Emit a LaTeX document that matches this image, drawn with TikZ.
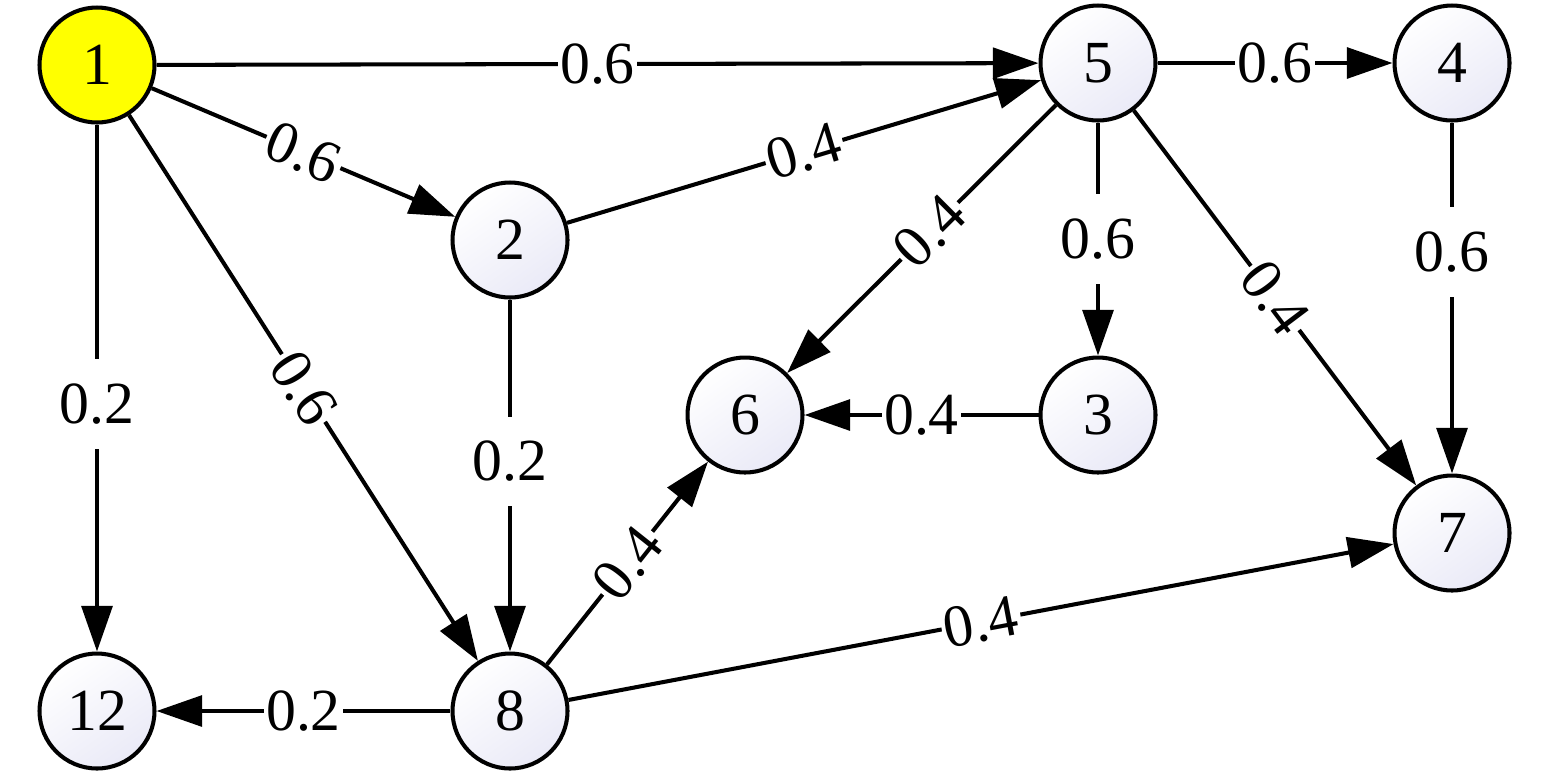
\documentclass[tikz,border=0pt]{standalone}
\usepackage{fontspec}
\setmainfont{Liberation Serif}
\usetikzlibrary{arrows.meta}
\definecolor{nodelav}{RGB}{234,234,247}
\definecolor{nodeyel}{RGB}{255,255,0}
\tikzset{
  gnode/.style={circle, draw=black, line width=2.3pt, minimum size=2.3cm, inner sep=0pt,
    top color=white, bottom color=nodelav, shading angle=35,
    font=\fontsize{34}{40}\selectfont},
  startnode/.style={gnode, fill=nodeyel, top color=nodeyel, bottom color=nodeyel},
  edge/.style={line width=2.3pt, line join=miter, -{Triangle[length=26pt,width=17.5pt]}},
  lbl/.style={fill=white, inner xsep=1.5pt, inner ysep=14pt, font=\fontsize{34}{40}\selectfont},
}
\begin{document}
\begin{tikzpicture}[x=0.02cm, y=-0.02cm]
\useasboundingbox (0,0) rectangle (1550,775);
\node[startnode] (n1) at (97,65) {1};
\node[gnode] (n5) at (1098,63) {5};
\node[gnode] (n4) at (1452,63) {4};
\node[gnode] (n2) at (510,240) {2};
\node[gnode] (n6) at (745,415) {6};
\node[gnode] (n3) at (1098,415) {3};
\node[gnode] (n7) at (1452,533) {7};
\node[gnode] (n12) at (97,711) {12};
\node[gnode] (n8) at (510,711) {8};

\draw[edge] (n1) -- node[lbl, pos=0.5] {0.6} (n5);
\draw[edge] (n1) -- node[lbl, pos=0.5, sloped] {0.6} (n2);
\draw[edge] (n1) -- node[lbl, pos=0.5, sloped] {0.6} (n8);
\draw[edge] (n1) -- node[lbl, pos=0.53] {0.2} (n12);
\draw[edge] (n2) -- node[lbl, pos=0.5, sloped] {0.4} (n5);
\draw[edge] (n2) -- node[lbl, pos=0.46] {0.2} (n8);
\draw[edge] (n5) -- node[lbl, pos=0.5] {0.6} (n4);
\draw[edge] (n5) -- node[lbl, pos=0.47, sloped] {0.4} (n6);
\draw[edge] (n5) -- node[lbl, pos=0.5] {0.6} (n3);
\draw[edge] (n5) -- node[lbl, pos=0.5, sloped] {0.4} (n7);
\draw[edge] (n4) -- node[lbl, pos=0.37] {0.6} (n7);
\draw[edge] (n3) -- node[lbl, pos=0.5] {0.4} (n6);
\draw[edge] (n8) -- node[lbl, pos=0.5, sloped] {0.4} (n6);
\draw[edge] (n8) -- node[lbl, pos=0.5, sloped] {0.4} (n7);
\draw[edge] (n8) -- node[lbl, pos=0.5] {0.2} (n12);
\end{tikzpicture}
\end{document}
